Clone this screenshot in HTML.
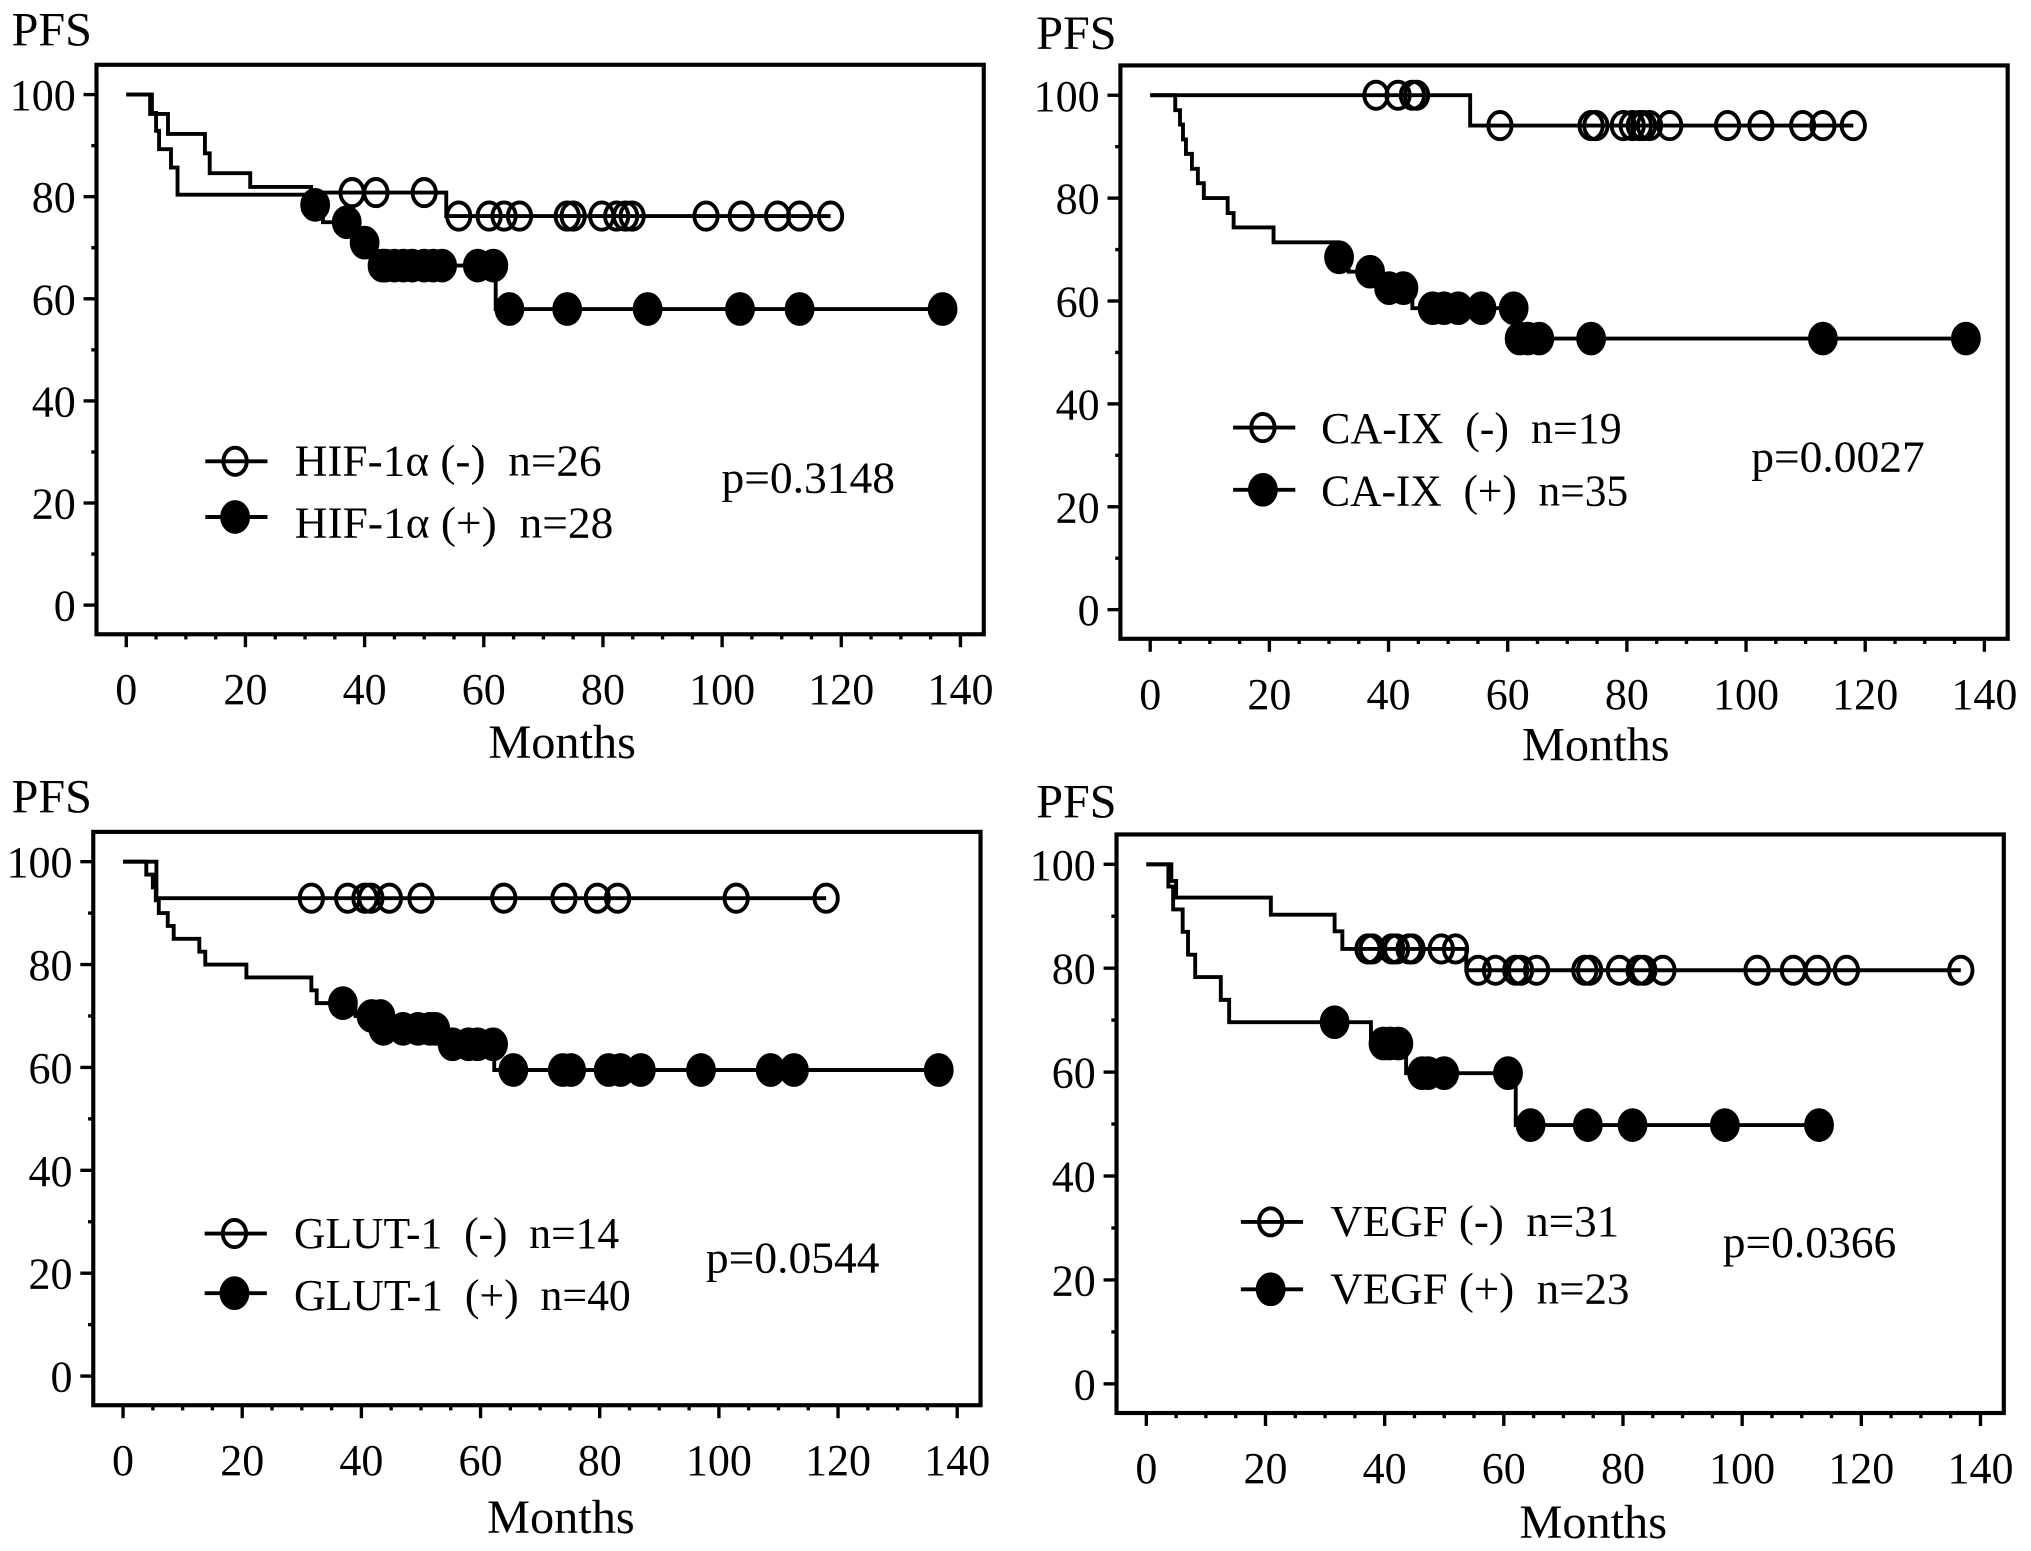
<!DOCTYPE html>
<html><head><meta charset="utf-8"><style>
html,body{margin:0;padding:0;background:#fff;}
svg{display:block;}
text{font-family:"Liberation Serif",serif;fill:#000;white-space:pre;}
</style></head><body>
<svg id="fig" width="2031" height="1551" viewBox="0 0 1568 1197" preserveAspectRatio="none" xmlns="http://www.w3.org/2000/svg"></svg>
<script>
// ---- data (months, survival %) ----
const hifNegSteps = [[0,100],[4,96.2],[7,92.3],[13.2,88.5],[14,84.6],[20.8,81.9],[31,80.8],[53.7,76.2]];
const hifNegCens = [37.9,41.9,50,55.8,60.9,63.4,66,74,75,79.8,82.3,83.8,84.9,97.3,103.2,109.3,113,118.2];
const hifPosSteps = [[0,100],[4.3,96.4],[5,92.9],[5.5,89.3],[7.5,85.7],[8.6,80.4],[31,78.4],[33,75],[38,71],[42,66.5],[62,58]];
const hifPosCens = [31.7,37,40,43,43.5,45,46.5,48,50,51.5,53,59,61.6,64.3,74,87.5,103,113,137];

const caNegSteps = [[0,100],[53.7,94.1]];
const caNegCens = [37.9,41.6,44,44.7,58.7,74,74.8,79.4,80.9,82.1,82.8,83.8,87.2,96.9,102.5,109.5,112.9,118];
const caPosSteps = [[0,100],[4.2,97.1],[5,94.3],[5.5,91.4],[6,88.6],[7,85.7],[8,82.9],[9,80],[13,77.1],[14,74.3],[20.7,71.4],[31.5,68.5],[33.3,65.7],[38.2,62.5],[44,58.6],[62,52.7]];
const caPosCens = [31.7,36.9,40.1,42.5,47.4,49.3,51.7,55.6,61,62,63.4,65.3,74,112.9,136.9];

const glutNegSteps = [[0,100],[5.6,92.9]];
const glutNegCens = [31.6,37.7,40.6,41.6,44.7,50,63.9,74,79.6,83,102.9,118];
const glutPosSteps = [[0,100],[3.9,97.5],[5,95],[5.5,92.5],[6,90],[7.5,87.5],[8.5,85],[12.8,82.5],[13.8,80],[20.7,77.5],[31.6,75],[32.5,72.5],[39,70],[43.5,67.5],[53.5,64.5],[62.3,59.5]];
const glutPosCens = [36.9,41.7,43.2,43.7,47,49.5,51.5,52.4,55.3,58,59.5,62.1,65.5,73.8,75.2,81.5,83.5,86.9,97,108.7,112.6,136.9];

const vegfNegSteps = [[0,100],[4.2,96.8],[5,93.6],[20.9,90.3],[31.6,87.1],[32.9,83.7],[53.7,79.6]];
const vegfNegCens = [37.2,37.9,41.2,42,44.1,44.6,49.5,51.9,55.7,58.6,62,62.8,65.5,73.6,74.4,79.4,82.7,83.5,86.7,102.5,108.6,112.6,117.5,136.7];
const vegfPosSteps = [[0,100],[3.7,95.7],[4.5,91.3],[6.1,87],[7,82.6],[8.2,78.3],[12.5,73.9],[13.9,69.6],[37.7,65.5],[43.6,59.8],[62,49.8]];
const vegfPosCens = [31.6,39.8,40.9,42.3,46.3,47.3,50,60.7,64.5,74.1,81.6,97.1,112.9];

const xTicks = [0,20,40,60,80,100,120,140];
const yTicks = [0,20,40,60,80,100];
const pValues = ["p=0.3148","p=0.0027","p=0.0544","p=0.0366"];
const negLabels = ["HIF-1α (-)  n=26","CA-IX  (-)  n=19","GLUT-1  (-)  n=14","VEGF (-)  n=31"];
const posLabels = ["HIF-1α (+)  n=28","CA-IX  (+)  n=35","GLUT-1  (+)  n=40","VEGF (+)  n=23"];

const panels = [
 {id:"hif", x0:97.5, y100:73, y0:467, neg:[hifNegSteps,hifNegCens], pos:[hifPosSteps,hifPosCens],
  pfs:[9,35], months:[434,585], leg:[61,130,356,399,367,415,237,246], p:[557,380]},
 {id:"ca", x0:888, y100:73.5, y0:470.5, neg:[caNegSteps,caNegCens], pos:[caPosSteps,caPosCens],
  pfs:[800,38], months:[1232,587], leg:[64,132,330,378,342,390,232,237], p:[1352,364]},
 {id:"glut", x0:95, y100:665, y0:1062, neg:[glutNegSteps,glutNegCens], pos:[glutPosSteps,glutPosCens],
  pfs:[9,627], months:[433,1183], leg:[63,132,952,998,963,1011,251,260], p:[545,982]},
 {id:"vegf", x0:885, y100:667, y0:1068, neg:[vegfNegSteps,vegfNegCens], pos:[vegfPosSteps,vegfPosCens],
  pfs:[800,631], months:[1230,1187], leg:[73,142,943,995,954,1006,223,231], p:[1330,970]}
];

const NS = "http://www.w3.org/2000/svg";
const svg = document.getElementById('fig');
function mk(tag, attrs, parent){
  const e = document.createElementNS(NS, tag);
  for (const k in attrs) e.setAttribute(k, attrs[k]);
  (parent||svg).appendChild(e);
  return e;
}
function survAt(steps, t){
  let v = steps[0][1];
  for (const s of steps) if (s[0] <= t) v = s[1];
  return v;
}
const PXM = 4.6;
const SW = 3.0;

panels.forEach((P, pi) => {
  const g = mk('g', {});
  
  
  const X = m => P.x0 + m * PXM;
  const Y = v => P.y0 - (P.y0 - P.y100) * v / 100;
  const L = P.x0 - 23, R = X(140) + 18, T = P.y100 - 23, B = P.y0 + 22.5;

  const box = mk('rect', {x:L, y:T, width:R-L, height:B-T, fill:'none', stroke:'#000', 'stroke-width':3.2}, g);
  
  

  for (let v = 0; v <= 100; v += 10) {
    const major = v % 20 === 0;
    const t = mk('line', {x1:L - (major ? 10 : 4), x2:L, y1:Y(v), y2:Y(v), stroke:'#000', 'stroke-width':2.6}, g);
    
    
  }
  yTicks.forEach(v => {
    const t = mk('text', {x:L - 16, y:Y(v) + 12, 'text-anchor':'end', 'font-size':34}, g);
    t.textContent = String(v);
    
    
  });
  for (let m = 0; m <= 140; m += 5) {
    const major = m % 20 === 0;
    const t = mk('line', {x1:X(m), x2:X(m), y1:B, y2:B + (major ? 10 : 4), stroke:'#000', 'stroke-width':2.6}, g);
    
    
  }
  xTicks.forEach(m => {
    const t = mk('text', {x:X(m), y:B + 54, 'text-anchor':'middle', 'font-size':34}, g);
    t.textContent = String(m);
    
    
  });
  const pfs = mk('text', {x:P.pfs[0], y:P.pfs[1], 'font-size':37, textLength:62, lengthAdjust:'spacingAndGlyphs'}, g);
  pfs.textContent = 'PFS';
  
  
  const mo = mk('text', {x:P.months[0] - 57, y:P.months[1], 'font-size':37, textLength:114, lengthAdjust:'spacingAndGlyphs'}, g);
  mo.textContent = 'Months';
  
  

  [[P.neg, false, 'negative'], [P.pos, true, 'positive']].forEach(([ser, filled, nm]) => {
    const steps = ser[0], cens = ser[1];
    const lastT = Math.max(cens[cens.length - 1], steps[steps.length - 1][0]);
    let d = 'M' + X(steps[0][0]) + ' ' + Y(steps[0][1]);
    for (let i = 1; i < steps.length; i++) {
      d += ' H' + X(steps[i][0]) + ' V' + Y(steps[i][1]);
    }
    d += ' H' + X(lastT);
    const path = mk('path', {d:d, fill:'none', stroke:'#000', 'stroke-width':SW}, g);
    
    
    cens.forEach(c => {
      const e = mk('ellipse', {cx:X(c), cy:Y(survAt(steps, c)), rx:filled ? 10 : 9, ry:filled ? 11.5 : 10.5,
        fill:filled ? '#000' : 'none', stroke:'#000', 'stroke-width':SW}, g);
      
      
    });
  });

  const lg = P.leg;
  [[false, lg[2], lg[4], negLabels[pi], lg[6]], [true, lg[3], lg[5], posLabels[pi], lg[7]]].forEach(([filled, ly, by, lab, w]) => {
    const item = mk('g', {}, g);
    
    
    const lx = P.x0 + lg[0];
    mk('line', {x1:lx, x2:lx + 48, y1:ly, y2:ly, stroke:'#000', 'stroke-width':SW}, item);
    mk('ellipse', {cx:lx + 23, cy:ly, rx:filled ? 10 : 9, ry:filled ? 11.5 : 10.5, fill:filled ? '#000' : 'none', stroke:'#000', 'stroke-width':SW}, item);
    const t = mk('text', {x:P.x0 + lg[1], y:by, 'font-size':34, textLength:w, lengthAdjust:'spacingAndGlyphs'}, item);
    t.textContent = lab;
  });
  const pv = mk('text', {x:P.p[0], y:P.p[1], 'font-size':34, textLength:134, lengthAdjust:'spacingAndGlyphs'}, g);
  pv.textContent = pValues[pi];
  
  
});
</script>
</body></html>
